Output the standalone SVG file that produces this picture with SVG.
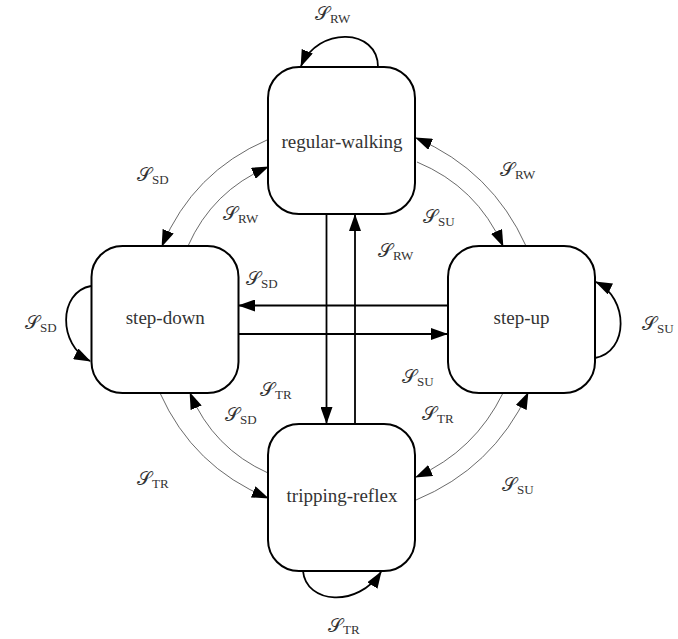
<svg xmlns="http://www.w3.org/2000/svg" width="678" height="639" viewBox="0 0 678 639">
<defs>
<marker id="ah" markerUnits="userSpaceOnUse" markerWidth="17" markerHeight="12" refX="16" refY="6" orient="auto"><path d="M0,0 L17,6 L0,12 z" fill="#000"/></marker>
<style>
.box{fill:#fff;stroke:#000;stroke-width:2}
.nt{font-family:"Liberation Serif",serif;font-size:19px;fill:#333;text-anchor:middle}
.thick{fill:none;stroke:#000;stroke-width:1.8;marker-end:url(#ah)}
.thin{fill:none;stroke:#444;stroke-width:0.8;marker-end:url(#ah)}
.lbl{font-family:"Liberation Serif","DejaVu Serif",serif;fill:#333}
.S{font-size:19px}
.sub{font-size:13px}
</style>
</defs>
<rect width="678" height="639" fill="#fff"/>
<g id="connectors">
<path class="thick" d="M326.5,215 L326.5,423"/>
<path class="thick" d="M355,424 L355,215"/>
<path class="thick" d="M448,305.5 L239,305.5"/>
<path class="thick" d="M238,334 L447,334"/>
<path class="thick" d="M378,67 C378,28 318,26 301,66"/>
<path class="thick" d="M91,286 C58,292 58,345 90,361"/>
<path class="thick" d="M595,358 C629,352 629,298 596,282"/>
<path class="thick" d="M303,571 C306,604 358,608 381,572"/>
<path class="thin" d="M267,140 Q193,172 162,246"/>
<path class="thin" d="M188,246 Q212.4,190.9 268,167"/>
<path class="thin" d="M526,246 Q492,170.6 416,138"/>
<path class="thin" d="M417,162 Q476.8,186.8 503,246"/>
<path class="thin" d="M160,393 Q193.1,467 268,498"/>
<path class="thin" d="M268,473 Q213.2,448.4 190,393"/>
<path class="thin" d="M503,393 Q474.8,450.8 416,477"/>
<path class="thin" d="M416,500 Q492.7,468.2 528,393"/>
</g>
<g id="regular-walking"><rect class="box" x="268" y="67" width="147" height="147" rx="31"/><text class="nt" x="342" y="147.5">regular-walking</text></g>
<g id="step-down"><rect class="box" x="91.5" y="246" width="147" height="147" rx="31"/><text class="nt" x="165.3" y="324">step-down</text></g>
<g id="step-up"><rect class="box" x="448" y="246" width="147" height="147" rx="31"/><text class="nt" x="521.5" y="324">step-up</text></g>
<g id="tripping-reflex"><rect class="box" x="268" y="424" width="147" height="147" rx="31"/><text class="nt" x="342" y="501.5">tripping-reflex</text></g>
<g id="labels">
<text class="lbl" x="315" y="20"><tspan class="S">𝒮</tspan><tspan class="sub" x="330" y="23">RW</tspan></text>
<text class="lbl" x="137" y="181"><tspan class="S">𝒮</tspan><tspan class="sub" x="152" y="184">SD</tspan></text>
<text class="lbl" x="223" y="220"><tspan class="S">𝒮</tspan><tspan class="sub" x="238" y="223">RW</tspan></text>
<text class="lbl" x="500" y="176"><tspan class="S">𝒮</tspan><tspan class="sub" x="515" y="179">RW</tspan></text>
<text class="lbl" x="423" y="223"><tspan class="S">𝒮</tspan><tspan class="sub" x="438" y="226">SU</tspan></text>
<text class="lbl" x="378" y="257"><tspan class="S">𝒮</tspan><tspan class="sub" x="393" y="260">RW</tspan></text>
<text class="lbl" x="246" y="285"><tspan class="S">𝒮</tspan><tspan class="sub" x="261" y="288">SD</tspan></text>
<text class="lbl" x="260" y="396"><tspan class="S">𝒮</tspan><tspan class="sub" x="275" y="399">TR</tspan></text>
<text class="lbl" x="402" y="383"><tspan class="S">𝒮</tspan><tspan class="sub" x="417" y="386">SU</tspan></text>
<text class="lbl" x="225" y="421"><tspan class="S">𝒮</tspan><tspan class="sub" x="240" y="424">SD</tspan></text>
<text class="lbl" x="422" y="420"><tspan class="S">𝒮</tspan><tspan class="sub" x="437" y="423">TR</tspan></text>
<text class="lbl" x="137" y="485"><tspan class="S">𝒮</tspan><tspan class="sub" x="152" y="488">TR</tspan></text>
<text class="lbl" x="502" y="491"><tspan class="S">𝒮</tspan><tspan class="sub" x="517" y="494">SU</tspan></text>
<text class="lbl" x="25" y="329"><tspan class="S">𝒮</tspan><tspan class="sub" x="40" y="332">SD</tspan></text>
<text class="lbl" x="642" y="330"><tspan class="S">𝒮</tspan><tspan class="sub" x="657" y="333">SU</tspan></text>
<text class="lbl" x="328" y="632"><tspan class="S">𝒮</tspan><tspan class="sub" x="343" y="634">TR</tspan></text>
</g>
</svg>
